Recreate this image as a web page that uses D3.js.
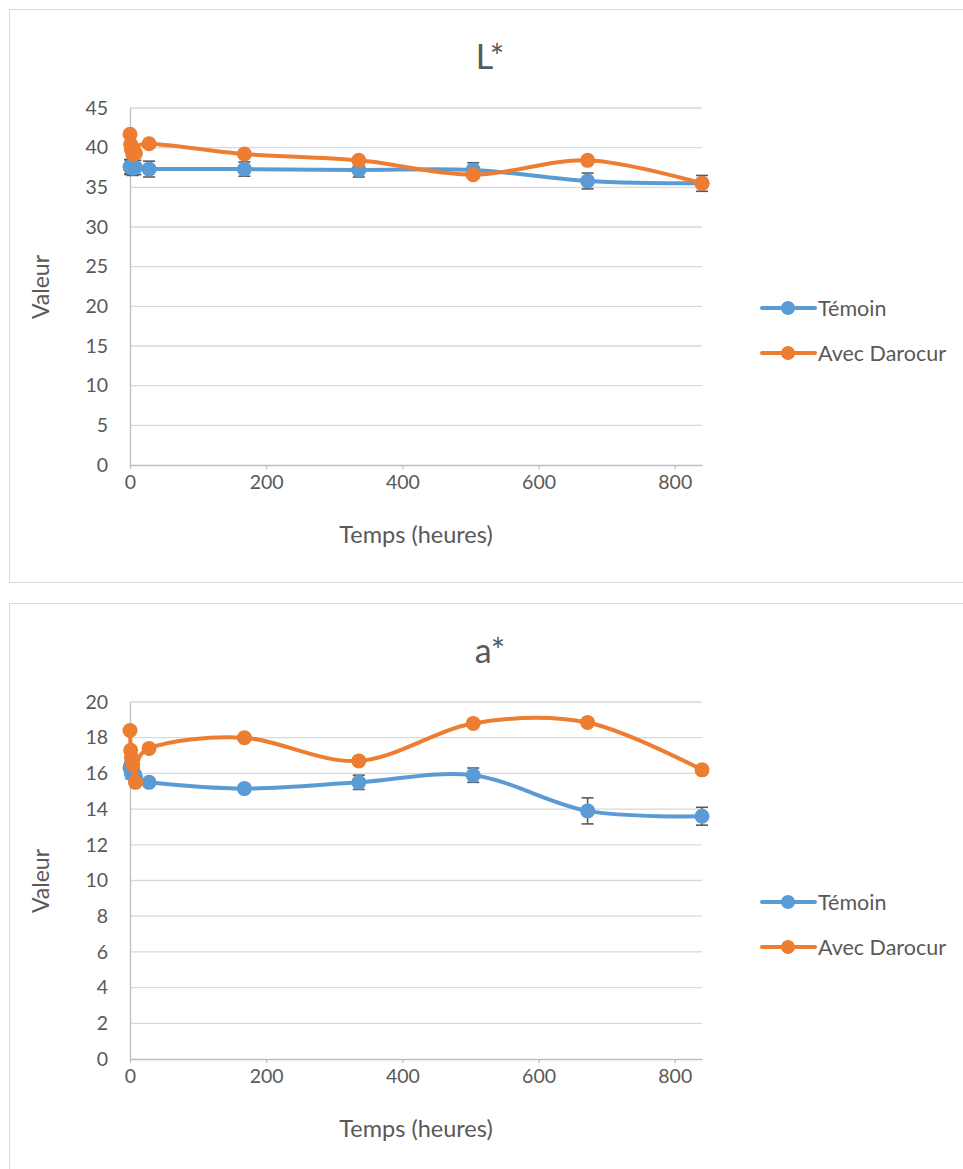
<!DOCTYPE html>
<html><head><meta charset="utf-8">
<script src="https://cdn.jsdelivr.net/npm/d3@7"></script>
<style>body{margin:0;background:#fff}svg{display:block}</style>
</head><body>
<svg id="c" width="963" height="1169"></svg>
<script>
// ---- data ----
const hours = [0, 1, 2, 4, 8, 28, 168, 336, 504, 672, 840];
const seriesNames = ["Témoin", "Avec Darocur"];
const xTicks = [0, 200, 400, 600, 800];

const lTemoin = [37.6, 37.5, 37.6, 37.4, 37.5, 37.3, 37.3, 37.2, 37.2, 35.8, 35.5];
const lTemoinErr = [0.9, 0.9, 0.9, 0.9, 0.9, 1.0, 0.9, 0.9, 0.9, 1.0, 1.0];
const lDarocur = [41.7, 40.4, 39.8, 39.2, 39.3, 40.5, 39.2, 38.4, 36.6, 38.4, 35.5];
const lTicks = [0, 5, 10, 15, 20, 25, 30, 35, 40, 45];

const aTemoin = [16.3, 16.4, 16.0, 16.2, 15.8, 15.5, 15.15, 15.5, 15.9, 13.9, 13.6];
const aTemoinErr = [0.3, 0.3, 0.3, 0.3, 0.3, 0.2, 0.2, 0.4, 0.4, 0.73, 0.5];
const aDarocur = [18.4, 17.3, 16.9, 16.5, 15.5, 17.4, 18.0, 16.7, 18.8, 18.85, 16.2];
const aTicks = [0, 2, 4, 6, 8, 10, 12, 14, 16, 18, 20];

const colors = ["#5B9BD5", "#ED7D31"];
const FONT = "Lato, 'Open Sans', sans-serif";
const TXT = "#595959";

const svg = d3.select("#c");

function drawChart(o) {
  const g = svg.append("g").attr("transform", `translate(0,${o.top})`);
  g.append("rect").attr("x", 9.5).attr("y", 9.5).attr("width", 1000).attr("height", o.frameH)
    .attr("fill", "#fff").attr("stroke", "#d9d9d9").attr("stroke-width", 1);

  const x = d3.scaleLinear().domain([0, 840]).range([130, 702]);
  const y = d3.scaleLinear().domain([0, o.yMax]).range([465, 108]);

  // gridlines
  g.append("g").selectAll("line").data(o.yTicks.filter(d => d > 0)).join("line")
    .attr("x1", 130).attr("x2", 702).attr("y1", d => y(d)).attr("y2", d => y(d))
    .attr("stroke", "#d9d9d9").attr("stroke-width", 1.3);

  // axes
  const xa = g.append("g").attr("transform", "translate(0,465)")
    .call(d3.axisBottom(x).tickValues(xTicks).tickSizeInner(4).tickSizeOuter(0).tickPadding(6));
  xa.select(".domain").attr("stroke", "#bfbfbf").attr("stroke-width", 1.3);
  xa.selectAll(".tick line").attr("stroke", "#bfbfbf").attr("stroke-width", 1.3);
  xa.selectAll("text").attr("fill", TXT).style("font-family", FONT).style("font-size", "19.5px");

  const ya = g.append("g").attr("transform", "translate(130,0)")
    .call(d3.axisLeft(y).tickValues(o.yTicks).tickSize(0).tickPadding(22));
  ya.select(".domain").attr("stroke", "#bfbfbf").attr("stroke-width", 1.3);
  ya.selectAll("text").attr("fill", TXT).style("font-family", FONT).style("font-size", "19.5px");

  // titles
  g.append("text").attr("x", 490).attr("y", 69).attr("text-anchor", "middle")
    .attr("fill", TXT).style("font-family", FONT).style("font-size", "34px").text(o.title);
  g.append("text").attr("x", 416).attr("y", 543).attr("text-anchor", "middle")
    .attr("fill", TXT).style("font-family", FONT).style("font-size", "23.5px").text("Temps (heures)");
  g.append("text").attr("transform", "translate(40,287) rotate(-90)").attr("text-anchor", "middle")
    .attr("dominant-baseline", "central")
    .attr("fill", TXT).style("font-family", FONT).style("font-size", "23px").text("Valeur");

  const line = d3.line().x(d => x(d.t)).y(d => y(d.v)).curve(d3.curveCardinal.tension(0));

  o.series.forEach((s, i) => {
    const pts = hours.map((t, k) => ({t, v: s.values[k], e: s.err ? s.err[k] : 0}));
    const sg = g.append("g");
    sg.append("path").datum(pts).attr("d", line).attr("fill", "none")
      .attr("stroke", colors[i]).attr("stroke-width", 4).attr("stroke-linecap", "round");
    if (s.err) {
      const eg = sg.append("g").attr("stroke", "#595959").attr("stroke-width", 1.6);
      pts.forEach(p => {
        eg.append("line").attr("x1", x(p.t)).attr("x2", x(p.t)).attr("y1", y(p.v - p.e)).attr("y2", y(p.v + p.e));
        eg.append("line").attr("x1", x(p.t) - 6).attr("x2", x(p.t) + 6).attr("y1", y(p.v - p.e)).attr("y2", y(p.v - p.e));
        eg.append("line").attr("x1", x(p.t) - 6).attr("x2", x(p.t) + 6).attr("y1", y(p.v + p.e)).attr("y2", y(p.v + p.e));
      });
    }
    sg.selectAll("circle").data(pts).join("circle")
      .attr("cx", d => x(d.t)).attr("cy", d => y(d.v)).attr("r", 7.5).attr("fill", colors[i]);

    // legend
    const ly = 308 + i * 45;
    const lg = g.append("g");
    lg.append("line").attr("x1", 762).attr("x2", 815).attr("y1", ly).attr("y2", ly)
      .attr("stroke", colors[i]).attr("stroke-width", 4).attr("stroke-linecap", "round");
    lg.append("circle").attr("cx", 788).attr("cy", ly).attr("r", 7).attr("fill", colors[i]);
    lg.append("text").attr("x", 818).attr("y", ly).attr("dominant-baseline", "central")
      .attr("fill", TXT).style("font-family", FONT).style("font-size", "21.5px").text(seriesNames[i]);
  });
}

drawChart({top: 0, frameH: 573, title: "L*", yMax: 45, yTicks: lTicks,
  series: [{values: lTemoin, err: lTemoinErr}, {values: lDarocur}]});
drawChart({top: 594, frameH: 600, title: "a*", yMax: 20, yTicks: aTicks,
  series: [{values: aTemoin, err: aTemoinErr}, {values: aDarocur}]});
</script>
</body></html>
